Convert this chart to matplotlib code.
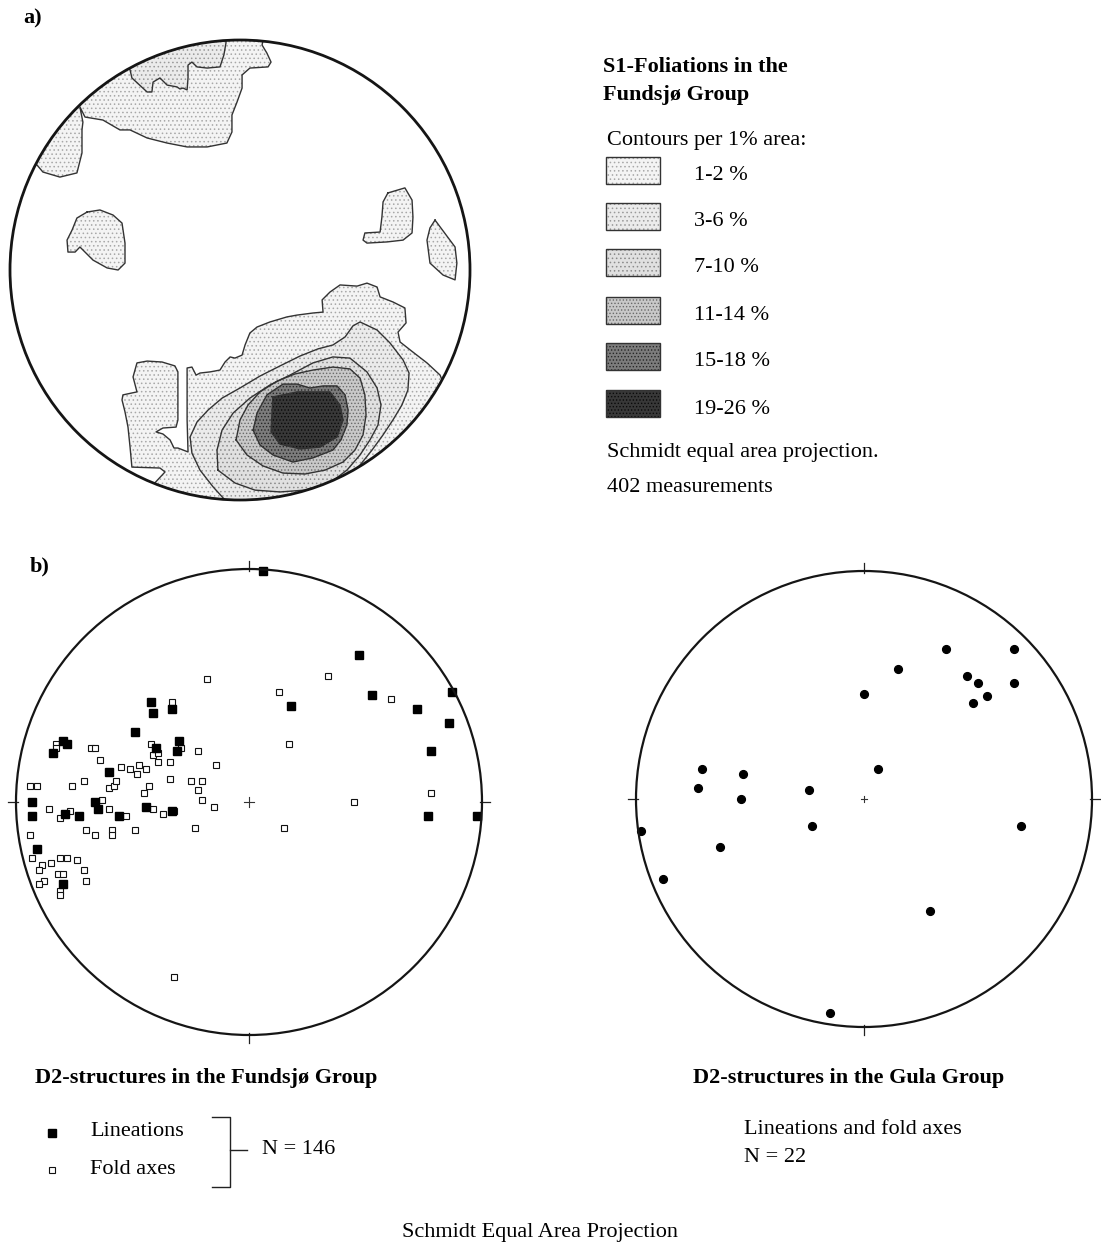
import matplotlib
matplotlib.use('Agg')
import matplotlib.pyplot as plt
from matplotlib.patches import Circle, Polygon, Rectangle

plt.rcParams['font.family'] = ['Liberation Serif', 'DejaVu Serif']
plt.rcParams['hatch.linewidth'] = 0.6

# S1 foliation contours (net units, primitive circle radius = 100)
level_labels = ['1-2 %', '3-6 %', '7-10 %', '11-14 %', '15-18 %', '19-26 %']

s1_north_1 = [(-105, 46), (-88.3, 45.7), (-85.7, 42.6), (-78.3, 40.4), (-70.9, 42.2), (-68.7, 50.9),
              (-68.7, 60.9), (-68.3, 64.3), (-69.6, 70.9), (-67.4, 66.5), (-59.6, 65.2), (-52.2, 60.9),
              (-47.8, 60.9), (-40.4, 57.4), (-31.7, 55.2), (-23.0, 53.5), (-14.3, 53.5), (-5.7, 55.2),
              (-3.5, 60.0), (-3.5, 67.4), (-1.3, 73.0), (0.9, 79.1), (0.9, 84.8), (4.3, 87.8),
              (12.2, 88.3), (13.5, 90.4), (11.7, 94.3), (9.6, 97.8), (12, 110), (-110, 110)]
s1_north_2 = [(-52, 90), (-47.8, 87.0), (-47.0, 83.5), (-40.4, 77.4), (-38.3, 77.4), (-37.8, 81.7),
              (-34.8, 83.5), (-31.7, 80.4), (-27.4, 79.6), (-26.1, 78.7), (-24.8, 79.1), (-23.0, 78.3),
              (-22.6, 83.5), (-22.6, 89.1), (-20.9, 90.4), (-18.7, 88.3), (-14.3, 87.8), (-8.7, 88.3),
              (-7.0, 93.5), (-6.1, 98.7), (-6, 110), (-55, 110)]
s1_west_1 = [(-66.5, 25.2), (-60.9, 26.1), (-55.2, 23.9), (-51.3, 20.4), (-50.0, 11.7), (-50.0, 3.0),
             (-53.0, 0.0), (-57.8, 0.9), (-63.9, 4.3), (-68.3, 8.7), (-69.6, 10.0), (-71.7, 7.8),
             (-74.8, 7.8), (-75.2, 13.0), (-73.0, 17.4), (-70.9, 22.6)]
s1_east_1 = [(64.3, 33.5), (71.7, 35.7), (74.8, 30.4), (75.2, 23.0), (74.8, 16.1), (70.9, 13.0),
             (63.9, 12.2), (55.2, 11.7), (53.5, 13.0), (54.3, 16.1), (60.9, 16.5), (61.7, 23.0),
             (62.2, 29.6)]
s1_east_2 = [(84.8, 21.7), (93.5, 10.0), (94.3, 3.0), (93.5, -4.3), (88.3, -2.2), (82.6, 3.0),
             (81.3, 13.0), (82.6, 18.3)]
s1_south_1 = [(-44, -110), (-39.1, -94.8), (-32.6, -87.8), (-34.8, -86.1), (-47.0, -85.7), (-47.8, -77.0),
              (-48.7, -68.3), (-50.0, -61.7), (-51.3, -56.5), (-50.9, -54.3), (-44.8, -53.0),
              (-46.5, -46.5), (-44.8, -40.4), (-40.4, -39.6), (-33.9, -40.0), (-28.3, -41.7),
              (-27.0, -44.3), (-27.0, -65.2), (-27.8, -68.3), (-33.5, -68.7), (-36.5, -70.4),
              (-33.5, -71.3), (-30.4, -73.9), (-28.7, -77.4), (-27.0, -77.4), (-22.6, -79.1),
              (-23.0, -65.2), (-23.0, -47.8), (-23.0, -42.6), (-20.9, -42.2), (-19.1, -45.7),
              (-17.4, -44.8), (-13.0, -44.3), (-8.7, -43.5), (-6.5, -40.0), (-4.3, -37.8),
              (-2.2, -38.3), (0.9, -37.0), (2.2, -32.6), (4.3, -27.4), (7.4, -24.8), (13.0, -22.6),
              (20.4, -20.4), (24.8, -19.6), (31.7, -18.7), (36.1, -18.3), (35.7, -13.0), (39.1, -9.6),
              (43.5, -6.5), (50.9, -7.0), (55.2, -5.7), (59.6, -7.4), (60.9, -11.7), (66.5, -13.9),
              (71.7, -16.5), (72.2, -23.0), (68.7, -27.0), (69.6, -31.3), (75.2, -35.7),
              (81.3, -40.4), (87.0, -45.7), (88.3, -49.1), (100, -55), (60, -110)]
s1_south_2 = [(-5.7, -100.9), (-11.7, -94.3), (-17.4, -87.0), (-20.9, -79.6), (-21.7, -72.6),
              (-18.7, -66.1), (-13.9, -60.9), (-7.8, -55.7), (0.0, -51.3), (8.7, -46.1), (17.4, -41.7),
              (26.1, -37.4), (33.9, -34.3), (40.4, -32.6), (45.7, -29.1), (49.1, -24.3), (52.2, -22.6),
              (59.6, -26.1), (65.2, -31.7), (70.9, -39.1), (73.5, -44.8), (73.0, -52.2), (70.4, -58.7),
              (66.5, -65.2), (62.2, -71.7), (57.4, -78.3), (52.2, -84.8), (46.5, -91.3), (41.3, -97.8),
              (37.0, -102.2), (30, -112), (-6, -112)]
s1_south_3 = [(-9.6, -87.0), (-10.0, -78.3), (-7.8, -69.6), (-3.0, -62.2), (4.3, -55.7), (13.0, -50.0),
              (21.7, -45.7), (31.7, -40.4), (40.4, -37.8), (47.8, -38.3), (55.2, -44.3), (59.6, -51.3),
              (61.3, -58.7), (60.0, -67.4), (56.5, -73.9), (52.2, -80.4), (46.5, -87.0), (39.1, -92.6),
              (28.3, -95.7), (17.4, -96.5), (6.5, -95.7), (-2.2, -92.6)]
s1_south_4 = [(-1.7, -73.9), (0.0, -65.2), (3.5, -58.7), (8.7, -53.0), (16.1, -48.3), (23.9, -45.2),
              (31.7, -43.5), (40.4, -42.2), (47.8, -43.0), (52.2, -47.0), (54.3, -54.3), (54.8, -63.0),
              (53.5, -71.7), (50.0, -78.3), (44.8, -83.5), (37.0, -87.0), (28.3, -88.7), (18.7, -88.3),
              (10.0, -85.2), (3.0, -80.4)]
s1_south_5 = [(5.7, -69.6), (7.4, -62.2), (11.7, -54.3), (18.7, -49.6), (24.8, -49.6), (30.4, -51.3),
              (36.1, -50.4), (42.2, -50.4), (45.7, -54.3), (47.0, -60.9), (46.5, -67.4), (43.9, -73.9),
              (40.4, -78.3), (31.7, -81.7), (23.0, -83.5), (14.3, -80.4), (8.7, -76.1)]
s1_south_6 = [(14.3, -55.2), (24.8, -53.0), (39.1, -53.0), (43.5, -58.7), (44.8, -65.2), (42.2, -72.6),
              (34.8, -77.0), (26.1, -77.8), (17.4, -75.7), (13.5, -70.4), (13.9, -62.2)]

s1_regions = [(0, s1_north_1), (0, s1_west_1), (0, s1_east_1), (0, s1_east_2), (0, s1_south_1),
              (1, s1_north_2), (1, s1_south_2), (2, s1_south_3), (3, s1_south_4),
              (4, s1_south_5), (5, s1_south_6)]

# D2 structures, Fundsjø Group
lin_x = [6, 47, 87, 53, 18, 72, 86, 78, 77, 98, -42, -41, -33, -49, -80, -78, -84, -30, -40, -31,
         -60, -93, -66, -65, -44, -93, -79, -73, -56, -33, -91, -80]
lin_y = [99, 63, 47, 46, 41, 40, 34, 22, -6, -6, 43, 38, 40, 30, 26, 25, 21, 26, 23, 22,
         13, 0, 0, -3, -2, -6, -5, -6, -6, -4, -20, -35]
fold_x = [-18, 34, 13, 61, -33, 17, -83, -83, -68, -66, -64, -42, -41, -39, -29, -22, -14, -55, -51,
          -48, -47, -44, -39, -34, -71, -76, -94, -91, -60, -58, -57, -43, -34, -25, -20, -22, -45,
          -20, -15, -63, 45, 78, -86, -77, -81, -60, -41, -37, -32, -53, -94, -70, -66, -59, -59,
          -49, -23, 15, -93, -89, -90, -85, -81, -78, -74, -71, -82, -80, -88, -90, -70, -81, -81, -32]
fold_y = [53, 54, 47, 44, 43, 25, 25, 23, 23, 23, 18, 25, 20, 21, 23, 22, 16, 15, 14,
          12, 16, 14, 17, 17, 9, 7, 7, 7, 6, 7, 9, 7, 10, 9, 9, 5, 4,
          1, -2, 1, 0, 4, -3, -4, -7, -3, -3, -5, -4, -6, -14, -12, -14, -12, -14,
          -12, -11, -11, -24, -27, -29, -26, -24, -24, -25, -29, -31, -31, -34, -35, -34, -38, -40, -75]

# D2 structures, Gula Group
gula_x = [36, 66, 15, 45, 50, 66, 54, 48, 0, -71, -53, 6, -73, -24, -54, -98, -23, 69, -63, -88, 29, -15]
gula_y = [66, 66, 57, 54, 51, 51, 45, 42, 46, 13, 11, 13, 5, 4, 0, -14, -12, -12, -21, -35, -49, -94]

shade_face = ['#f4f4f4', '#ebebeb', '#e0e0e0', '#c8c8c8', '#7c7c7c', '#383838']
shade_dots = ['#a8a8a8', '#9a9a9a', '#8a8a8a', '#6a6a6a', '#262626', '#0a0a0a']
shade_hatch = ['....', '....', '....', '.....', '.....', '.....']

W, H = 1101, 1245
fig = plt.figure(figsize=(W / 100, H / 100), dpi=100)


def net_axes(cx, cy, r, pad=1.1):
    half = r * pad
    ax = fig.add_axes([(cx - half) / W, 1 - (cy + half) / H, 2 * half / W, 2 * half / H])
    ax.set_xlim(-100 * pad, 100 * pad)
    ax.set_ylim(-100 * pad, 100 * pad)
    ax.axis('off')
    return ax


def draw_frame(ax, lw, ticks=True, cross=2.0):
    ax.add_patch(Circle((0, 0), 100, fill=False, lw=lw, color='#151515', zorder=5))
    if ticks:
        for dx, dy in [(0, 1), (0, -1), (1, 0), (-1, 0)]:
            ax.plot([dx * 99, dx * 103.5], [dy * 99, dy * 103.5], color='#222', lw=0.9)
        ax.plot([-cross, cross], [0, 0], color='#333', lw=0.8)
        ax.plot([0, 0], [-cross, cross], color='#333', lw=0.8)


# a) S1 contours
ax_a = net_axes(240, 270, 230)
clip = Circle((0, 0), 100, transform=ax_a.transData)
for lev, poly in s1_regions:
    p = Polygon(poly, closed=True, facecolor=shade_face[lev], edgecolor=shade_dots[lev],
                hatch=shade_hatch[lev], lw=0)
    ax_a.add_patch(p)
    p.set_clip_path(clip)
    xs = [v[0] for v in poly] + [poly[0][0]]
    ys = [v[1] for v in poly] + [poly[0][1]]
    ln, = ax_a.plot(xs, ys, color='#333333', lw=1.0)
    ln.set_clip_path(clip)
draw_frame(ax_a, 2.0, ticks=False)

# b) left: Fundsjø
ax_b1 = net_axes(249, 802, 233)
ax_b1.plot(fold_x, fold_y, 's', ms=4.6, mfc='white', mec='#111', mew=0.8, ls='none', zorder=3)
ax_b1.plot(lin_x, lin_y, 's', ms=6.0, mfc='black', mec='black', ls='none', zorder=4)
draw_frame(ax_b1, 1.6, cross=2.2)

# b) right: Gula
ax_b2 = net_axes(864, 799, 228)
ax_b2.plot(gula_x, gula_y, 'o', ms=5.6, mfc='black', mec='black', ls='none', zorder=4)
draw_frame(ax_b2, 1.6, cross=1.5)

# overlay for texts and legend, pixel units
lay = fig.add_axes([0, 0, 1, 1])
lay.set_xlim(0, W)
lay.set_ylim(H, 0)
lay.axis('off')

fs = 16
lay.text(23, 18, 'a)', fontsize=fs, fontweight='bold', va='center')
lay.text(30, 566, 'b)', fontsize=fs, fontweight='bold', va='center')
lay.text(603, 67, 'S1-Foliations in the', fontsize=fs, fontweight='bold', va='center')
lay.text(603, 95, 'Fundsjø Group', fontsize=fs, fontweight='bold', va='center')
lay.text(607, 140, 'Contours per 1% area:', fontsize=fs, va='center')

box_top = [157, 203, 249, 297, 343, 390]
for i, lab in enumerate(level_labels):
    r = Rectangle((606, box_top[i]), 54, 27, facecolor=shade_face[i], edgecolor=shade_dots[i],
                  hatch=shade_hatch[i], lw=0)
    lay.add_patch(r)
    lay.add_patch(Rectangle((606, box_top[i]), 54, 27, fill=False, edgecolor='#333', lw=1.0))
    lay.text(694, box_top[i] + 19, lab, fontsize=fs, va='center')

lay.text(607, 453, 'Schmidt equal area projection.', fontsize=fs, va='center')
lay.text(607, 488, '402 measurements', fontsize=fs, va='center')

lay.text(35, 1078, 'D2-structures in the Fundsjø Group', fontsize=fs, fontweight='bold', va='center')
lay.text(693, 1078, 'D2-structures in the Gula Group', fontsize=fs, fontweight='bold', va='center')

lay.plot([52], [1133], 's', ms=6.0, mfc='black', mec='black')
lay.plot([52], [1170], 's', ms=4.6, mfc='white', mec='#111', mew=0.8)
lay.text(90, 1132, 'Lineations', fontsize=fs, va='center')
lay.text(90, 1169, 'Fold axes', fontsize=fs, va='center')
lay.plot([212, 230, 230, 212], [1117, 1117, 1187, 1187], color='#222', lw=1.0)
lay.plot([230, 247], [1150, 1150], color='#222', lw=1.0)
lay.text(262, 1150, 'N = 146', fontsize=fs, va='center')

lay.text(744, 1130, 'Lineations and fold axes', fontsize=fs, va='center')
lay.text(744, 1158, 'N = 22', fontsize=fs, va='center')
lay.text(540, 1233, 'Schmidt Equal Area Projection', fontsize=fs, va='center', ha='center')

fig.savefig('out.png', dpi=100, facecolor='white')
